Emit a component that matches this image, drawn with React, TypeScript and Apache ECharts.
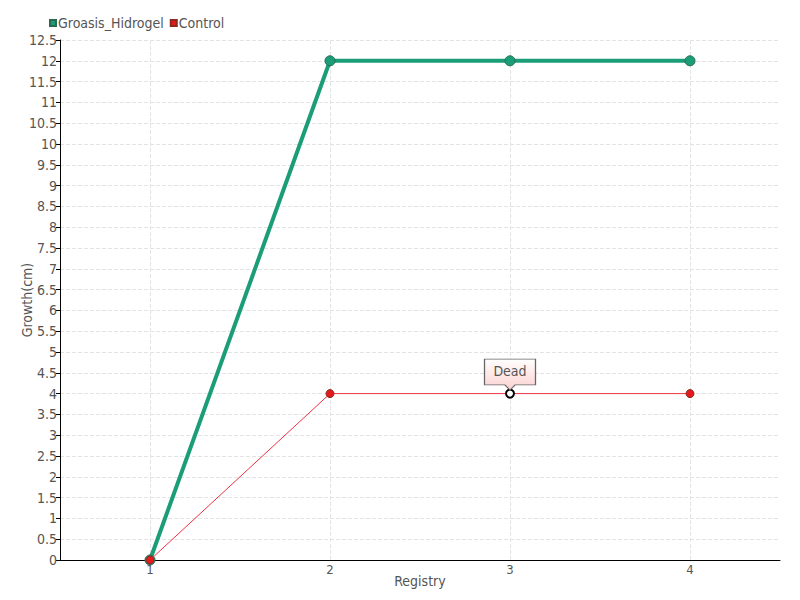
import React, { useEffect, useRef } from "react";
import * as echarts from "echarts";

const categories = ["1", "2", "3", "4"];
const hidrogel = [0, 12, 12, 12];
const control = [0, 4, 4, 4];
const seriesNames = ["Groasis_Hidrogel", "Control"];
const deadIndex = 2;
const deadText = "Dead";

const FONT = "'Liberation Sans Narrow', 'DejaVu Sans Condensed', sans-serif";

export default function App() {
  const ref = useRef<HTMLDivElement>(null);
  useEffect(() => {
    document.body.style.margin = "0";
    const chart = echarts.init(ref.current!, null, { renderer: "svg" });
    const controlData = control.map((v, i) =>
      i === deadIndex
        ? { value: v, itemStyle: { color: "#ffffff", borderColor: "#000000", borderWidth: 2 } }
        : v
    );
    chart.setOption({
      animation: false,
      textStyle: { fontFamily: FONT, color: "#555" },
      legend: {
        left: 44,
        top: 11,
        icon: "rect",
        itemWidth: 6,
        itemHeight: 6,
        itemGap: 6,
        textStyle: { fontFamily: FONT, fontSize: 14, color: "#555", padding: [0, 0, 0, -3] },
        data: seriesNames,
      },
      grid: { left: 60, right: 20, top: 40, bottom: 40, outerBoundsMode: "none" },
      xAxis: {
        type: "category",
        data: categories,
        boundaryGap: true,
        name: "Registry",
        nameLocation: "middle",
        nameGap: 14,
        nameMoveOverlap: false,
        nameTextStyle: { fontFamily: FONT, fontSize: 14, color: "#555" },
        axisLine: { lineStyle: { color: "#000" } },
        axisTick: { alignWithLabel: true, length: 5, lineStyle: { color: "#000" } },
        axisLabel: { fontFamily: FONT, fontSize: 13, color: "#555", margin: 3 },
        splitLine: { show: true, alignWithLabel: true, lineStyle: { type: "dashed", color: "#e3e3e3" } },
      },
      yAxis: {
        type: "value",
        min: 0,
        max: 12.5,
        interval: 0.5,
        name: "Growth(cm)",
        nameLocation: "middle",
        nameGap: 26,
        nameMoveOverlap: false,
        nameTextStyle: { fontFamily: FONT, fontSize: 14, color: "#555" },
        axisLine: { show: true, lineStyle: { color: "#000" } },
        axisTick: { show: true, length: 4, lineStyle: { color: "#000" } },
        axisLabel: { fontFamily: FONT, fontSize: 14, color: "#555", margin: 3 },
        splitLine: { show: true, lineStyle: { type: "dashed", color: "#e3e3e3" } },
      },
      series: [
        {
          name: seriesNames[0],
          type: "line",
          data: hidrogel,
          symbol: "circle",
          symbolSize: 10,
          color: "#1b9e77",
          lineStyle: { width: 4, color: "#1b9e77" },
          itemStyle: { color: "#1b9e77", borderColor: "#2a6a52", borderWidth: 1 },
          z: 2,
        },
        {
          name: seriesNames[1],
          type: "line",
          data: controlData,
          symbol: "circle",
          symbolSize: 8,
          color: "#e41a1c",
          lineStyle: { width: 1, color: "#ee3344" },
          itemStyle: { color: "#e41a1c", borderColor: "#8a2a20", borderWidth: 1 },
          z: 3,
          markPoint: {
            symbol: "path://M0,0 L50,0 L50,25 L30,25 L25,30 L20,25 L0,25 Z",
            symbolSize: [51, 31],
            symbolOffset: [0, -19],
            symbolKeepAspect: false,
            itemStyle: {
              color: new echarts.graphic.LinearGradient(0, 0, 0, 1, [
                { offset: 0, color: "#ffffff" },
                { offset: 1, color: "#fbd0d0" },
              ]),
              borderColor: "#666",
              borderWidth: 1,
            },
            label: {
              show: true,
              formatter: deadText,
              fontFamily: FONT,
              fontSize: 14,
              color: "#555",
              offset: [0, -4],
            },
            data: [{ coord: [deadIndex, control[deadIndex]] }],
          },
        },
      ],
    });
    return () => chart.dispose();
  }, []);
  return <div ref={ref} style={{ width: 800, height: 600 }} />;
}
